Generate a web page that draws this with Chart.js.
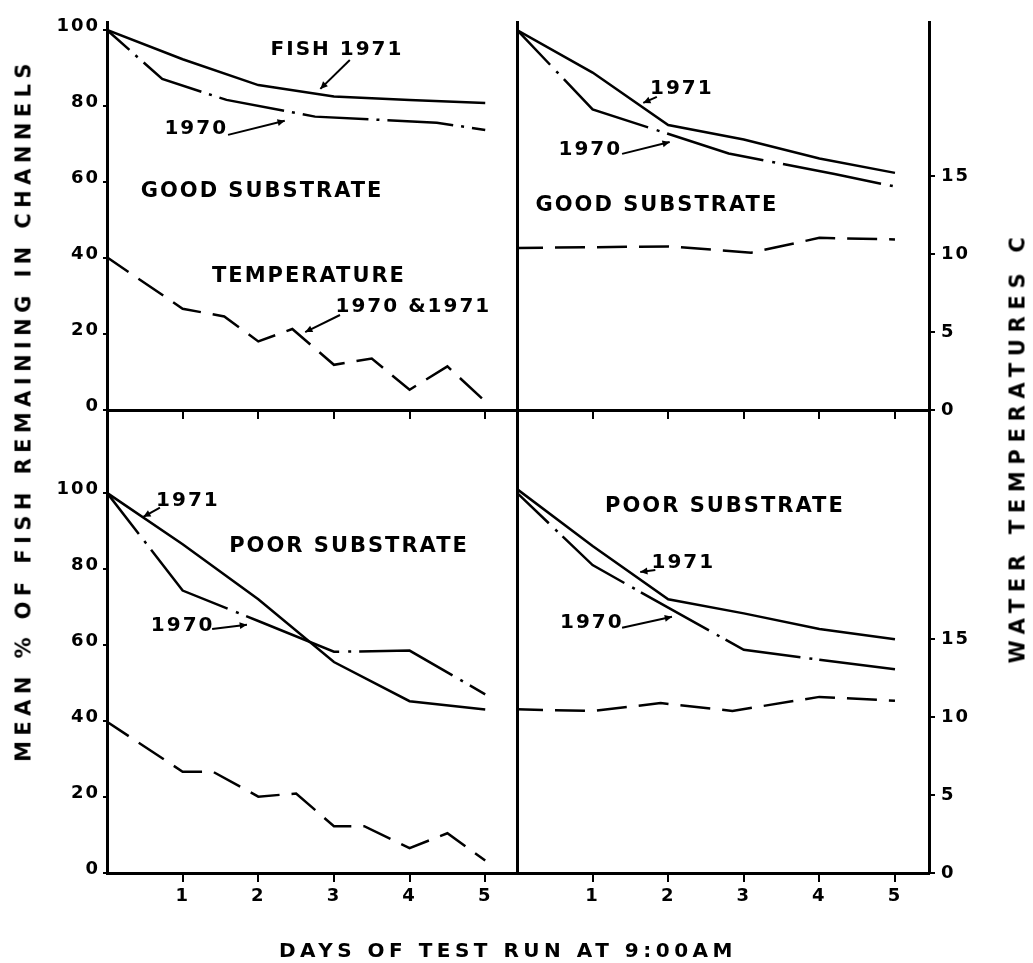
<!DOCTYPE html>
<html>
<head>
<meta charset="utf-8">
<script src="https://cdn.jsdelivr.net/npm/chart.js@4.4.1/dist/chart.umd.min.js"></script>
<style>
  body { margin: 0; background: #fff; }
  #wrap { position: relative; width: 1033px; height: 963px; overflow: hidden;
          font-family: 'DejaVu Sans', sans-serif; font-weight: bold; color: #000; }
  #wrap canvas { position: absolute; left: 0; top: 0; }
  .title { position: absolute; white-space: nowrap; font-size: 21px; line-height: 1;
           transform-origin: 0 0; }
  #yTitle { left: 24px; top: 410px; letter-spacing: 5.4px; transform: rotate(-90deg) translate(-50%, -50%); }
  #tTitle { left: 1018px; top: 447px; letter-spacing: 6.7px; transform: rotate(-90deg) translate(-50%, -50%); }
  #xTitle { left: 508px; top: 950px; font-size: 20px; letter-spacing: 4.5px; transform: translate(-50%, -50%); }
</style>
</head>
<body>
<div id="wrap">
  <canvas id="tl" width="1033" height="963"></canvas>
  <canvas id="tr" width="1033" height="963"></canvas>
  <canvas id="bl" width="1033" height="963"></canvas>
  <canvas id="br" width="1033" height="963"></canvas>
  <div class="title" id="yTitle">MEAN % OF FISH REMAINING IN CHANNELS</div>
  <div class="title" id="tTitle">WATER TEMPERATURES C</div>
  <div class="title" id="xTitle">DAYS OF TEST RUN AT 9:00AM</div>
</div>
<script>
// tick labels
const percentTicks = [0, 20, 40, 60, 80, 100];
const tempTicks = [0, 5, 10, 15];
const dayTicks = [1, 2, 3, 4, 5];

// good substrate, left column (mean % of fish remaining, temperature in C)
const tlFish1971Days = [0, 1, 2, 3, 4, 5];
const tlFish1971 = [100, 92.3, 85.5, 82.5, 81.6, 80.8];
const tlFish1970Days = [0, 0.73, 1.58, 2.75, 4.36, 5];
const tlFish1970 = [100, 87.1, 81.6, 77.2, 75.6, 73.7];
const tlTempDays = [0, 1, 1.55, 2, 2.45, 3, 3.5, 4, 4.5, 5];
const tlTemp = [9.8, 6.5, 6.0, 4.4, 5.2, 2.9, 3.3, 1.3, 2.8, 0.55];

// good substrate, right column
const trFish1971Days = [0, 1, 2, 3, 4, 5];
const trFish1971 = [100, 88.8, 75, 71.2, 66.2, 62.4];
const trFish1970Days = [0, 1, 2.8, 4.2, 5];
const trFish1970 = [100, 79.1, 67.5, 62.1, 58.8];
const trTempDays = [0, 1, 2, 3.1, 4, 5];
const trTemp = [10.4, 10.45, 10.5, 10.1, 11.05, 10.95];

// poor substrate, left column
const blFish1971Days = [0, 1, 2, 3, 4, 5];
const blFish1971 = [100, 86.5, 72, 55.5, 45.2, 43];
const blFish1970Days = [0, 1, 2, 3, 4, 5];
const blFish1970 = [100, 74.3, 66.3, 58.2, 58.5, 47];
const blTempDays = [0, 1, 1.4, 2, 2.5, 3, 3.4, 4, 4.5, 5];
const blTemp = [9.7, 6.5, 6.5, 4.9, 5.1, 3.0, 3.0, 1.6, 2.55, 0.8];

// poor substrate, right column
const brFish1971Days = [0, 1, 2, 3, 4, 5];
const brFish1971 = [101, 86, 72, 68.3, 64.2, 61.5];
const brFish1970Days = [0, 1, 2, 3, 4, 5];
const brFish1970 = [100, 81, 69.8, 58.7, 56.1, 53.6];
const brTempDays = [0, 1, 1.9, 2.85, 4, 5];
const brTemp = [10.5, 10.4, 10.9, 10.4, 11.3, 11.05];

const W = 1033, H = 963;
const PCT_PER_DEG = 4.1;   // 10 C sits at about 41 % on the shared scale
const FONT = "'DejaVu Sans', sans-serif";

const pts = (xs, ys) => xs.map((x, i) => ({ x: x, y: ys[i] }));

// text and arrows written on each panel, in data units
function notesPlugin(notes) {
  return {
    id: 'notes',
    afterDatasetsDraw(chart) {
      const { ctx, scales: { x, y } } = chart;
      ctx.save();
      ctx.fillStyle = '#000';
      ctx.strokeStyle = '#000';
      ctx.textAlign = 'center';
      ctx.textBaseline = 'middle';
      notes.labels.forEach(l => {
        ctx.font = 'bold ' + (l.size || 20) + 'px ' + FONT;
        ctx.letterSpacing = (l.spacing || 2) + 'px';
        ctx.fillText(l.text, x.getPixelForValue(l.x), y.getPixelForValue(l.y));
      });
      ctx.lineWidth = 2;
      notes.arrows.forEach(a => {
        const x1 = x.getPixelForValue(a.from[0]), y1 = y.getPixelForValue(a.from[1]);
        const x2 = x.getPixelForValue(a.to[0]), y2 = y.getPixelForValue(a.to[1]);
        const ang = Math.atan2(y2 - y1, x2 - x1);
        ctx.beginPath();
        ctx.moveTo(x1, y1);
        ctx.lineTo(x2, y2);
        ctx.stroke();
        ctx.beginPath();
        ctx.moveTo(x2, y2);
        ctx.lineTo(x2 - 8 * Math.cos(ang - 0.45), y2 - 8 * Math.sin(ang - 0.45));
        ctx.lineTo(x2 - 8 * Math.cos(ang + 0.45), y2 - 8 * Math.sin(ang + 0.45));
        ctx.closePath();
        ctx.fill();
      });
      ctx.restore();
    }
  };
}

const tickFont = { family: FONT, weight: 'bold', size: 18 };

function panel(id, p) {
  const box = p.box;
  const xh = p.bottom ? 40 : 0;
  const left = !p.right;
  new Chart(document.getElementById(id), {
    type: 'line',
    data: {
      datasets: [
        { data: pts(p.f71[0], p.f71[1]), borderWidth: 2.5 },
        { data: pts(p.f70[0], p.f70[1]), borderWidth: 2.5, borderDash: p.dashDot, borderDashOffset: p.dashOffset },
        { data: pts(p.temp[0], p.temp[1]), yAxisID: 't', borderWidth: 2.5, borderDash: [30, 12], borderDashOffset: 4 }
      ]
    },
    options: {
      responsive: false,
      animation: false,
      events: [],
      layout: { padding: { left: 0, top: box.t, right: left ? W - box.r : 0, bottom: H - box.b - xh } },
      elements: {
        point: { radius: 0 },
        line: { tension: 0, borderColor: '#000', borderCapStyle: 'butt', fill: false }
      },
      plugins: { legend: { display: false }, tooltip: { enabled: false } },
      scales: {
        x: {
          type: 'linear', min: 0, max: p.xMax,
          afterFit: s => { s.height = xh; },
          afterBuildTicks: s => { s.ticks = dayTicks.map(v => ({ value: v })); },
          border: { display: true, color: '#000', width: 3 },
          grid: { display: p.bottom, drawOnChartArea: false, drawTicks: true, tickLength: 9, color: '#000', lineWidth: 2 },
          ticks: { display: p.bottom, color: '#000', padding: 4, font: { family: FONT, weight: 'bold', size: 18 }, maxRotation: 0 }
        },
        y: {
          position: 'left', min: 0, max: p.yMax,
          afterFit: s => { s.width = box.l; },
          afterBuildTicks: s => { s.ticks = percentTicks.map(v => ({ value: v })); },
          border: { display: true, color: '#000', width: 3 },
          grid: { display: left, drawOnChartArea: false, drawTicks: true, tickLength: 4, color: '#000', lineWidth: 2 },
          ticks: { display: left, color: '#000', padding: 3, labelOffset: -4, font: tickFont }
        },
        t: {
          position: 'right', display: !left, min: 0, max: p.yMax / PCT_PER_DEG,
          afterFit: s => { s.width = left ? 0 : W - box.r; },
          afterBuildTicks: s => { s.ticks = tempTicks.map(v => ({ value: v })); },
          border: { display: true, color: '#000', width: 3 },
          grid: { drawOnChartArea: false, drawTicks: true, tickLength: 6, color: '#000', lineWidth: 2 },
          ticks: { color: '#000', padding: 6, font: tickFont }
        }
      }
    },
    plugins: [{
      id: 'spacing',
      beforeDraw(chart) { chart.ctx.letterSpacing = '2px'; }
    }, notesPlugin(p.notes)]
  });
}

panel('tl', {
  box: { l: 107, r: 517, t: 22, b: 410 }, xMax: 5.42, yMax: 102.1,
  f71: [tlFish1971Days, tlFish1971], f70: [tlFish1970Days, tlFish1970], temp: [tlTempDays, tlTemp],
  dashDot: [66, 8, 3, 8], dashOffset: 36,
  notes: {
    labels: [
      { text: 'FISH 1971', x: 3.04, y: 94.7 },
      { text: '1970', x: 1.18, y: 73.9 },
      { text: 'GOOD SUBSTRATE', x: 2.05, y: 57.6, size: 21 },
      { text: 'TEMPERATURE', x: 2.67, y: 35, size: 21 },
      { text: '1970 &1971', x: 4.05, y: 27.1 }
    ],
    arrows: [
      { from: [3.21, 92.1], to: [2.82, 84.5] },
      { from: [1.6, 72.4], to: [2.35, 76.1] },
      { from: [3.08, 25], to: [2.62, 20.5] }
    ]
  }
});

panel('tr', {
  box: { l: 517, r: 929, t: 22, b: 410 }, xMax: 5.45, yMax: 102.1, right: true,
  f71: [trFish1971Days, trFish1971], f70: [trFish1970Days, trFish1970], temp: [trTempDays, trTemp],
  dashDot: [100, 9, 3, 8], dashOffset: 52,
  notes: {
    labels: [
      { text: '1971', x: 2.18, y: 84.5 },
      { text: '1970', x: 0.97, y: 68.4 },
      { text: 'GOOD SUBSTRATE', x: 1.85, y: 53.9, size: 21 }
    ],
    arrows: [
      { from: [1.85, 82.4], to: [1.67, 80.8] },
      { from: [1.39, 67.4], to: [2.02, 70.5] }
    ]
  }
});

panel('bl', {
  box: { l: 107, r: 517, t: 410, b: 873 }, xMax: 5.42, yMax: 121.8, bottom: true,
  f71: [blFish1971Days, blFish1971], f70: [blFish1970Days, blFish1970], temp: [blTempDays, blTemp],
  dashDot: [100, 9, 3, 8], dashOffset: 48,
  notes: {
    labels: [
      { text: '1971', x: 1.07, y: 97.9 },
      { text: 'POOR SUBSTRATE', x: 3.2, y: 85.8, size: 21 },
      { text: '1970', x: 1.0, y: 65 }
    ],
    arrows: [
      { from: [0.7, 96.1], to: [0.48, 93.7] },
      { from: [1.39, 64.2], to: [1.85, 65.3] }
    ]
  }
});

panel('br', {
  box: { l: 517, r: 929, t: 410, b: 873 }, xMax: 5.45, yMax: 121.8, right: true, bottom: true,
  f71: [brFish1971Days, brFish1971], f70: [brFish1970Days, brFish1970], temp: [brTempDays, brTemp],
  dashDot: [78, 9, 3, 7], dashOffset: 34,
  notes: {
    labels: [
      { text: 'POOR SUBSTRATE', x: 2.75, y: 96.3, size: 21 },
      { text: '1971', x: 2.2, y: 81.6 },
      { text: '1970', x: 0.99, y: 65.8 }
    ],
    arrows: [
      { from: [1.83, 79.7], to: [1.63, 79.2] },
      { from: [1.39, 64.5], to: [2.05, 67.4] }
    ]
  }
});
</script>
</body>
</html>
